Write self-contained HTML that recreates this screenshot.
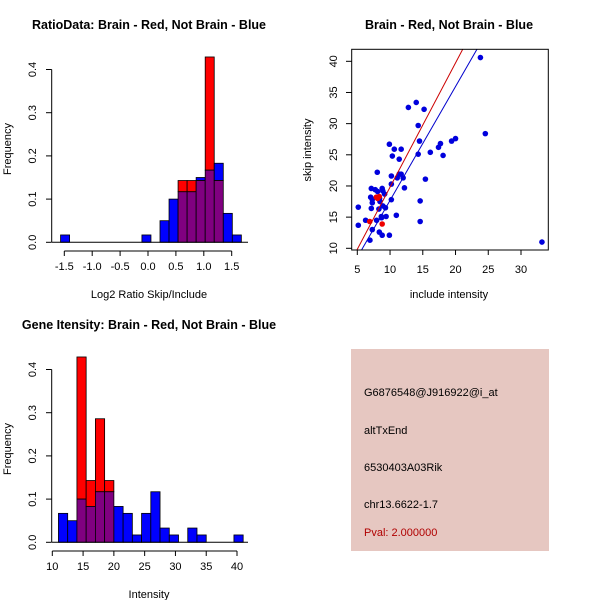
<!DOCTYPE html>
<html><head><meta charset="utf-8"><style>
html,body{margin:0;padding:0;background:#fff;}
svg{display:block;font-family:"Liberation Sans",sans-serif;}
</style></head><body>
<svg id="s" width="600" height="600" viewBox="0 0 600 600">
<rect x="0" y="0" width="600" height="600" fill="#fff"/>
<text x="149" y="29" font-size="12.5" font-weight="bold" text-anchor="middle">RatioData: Brain - Red, Not Brain - Blue</text>
<text x="449" y="29" font-size="12.5" font-weight="bold" text-anchor="middle">Brain - Red, Not Brain - Blue</text>
<text x="149" y="329" font-size="12.5" font-weight="bold" text-anchor="middle">Gene Itensity: Brain - Red, Not Brain - Blue</text>
<text x="149" y="298" font-size="11" text-anchor="middle">Log2 Ratio Skip/Include</text>
<text x="449" y="298" font-size="11" text-anchor="middle">include intensity</text>
<text x="149" y="598" font-size="11" text-anchor="middle">Intensity</text>
<text transform="translate(11,149) rotate(-90)" font-size="11" text-anchor="middle">Frequency</text>
<text transform="translate(311,150) rotate(-90)" font-size="11" text-anchor="middle">skip intensity</text>
<text transform="translate(11,449) rotate(-90)" font-size="11" text-anchor="middle">Frequency</text>
<g>
<rect x="351" y="349" width="198" height="202" fill="#e6c7c1"/>
<text x="364" y="396" font-size="11">G6876548@J916922@i_at</text>
<text x="364" y="434" font-size="11">altTxEnd</text>
<text x="364" y="471" font-size="11">6530403A03Rik</text>
<text x="364" y="508" font-size="11">chr13.6622-1.7</text>
<text x="364" y="536" font-size="11" fill="#b00000">Pval: 2.000000</text>
</g>
</svg>
<script>
// Ratio histogram data
const ratioBinStart = 0.215;
const ratioBinWidth = 0.162;
const ratioBins = [-11,-2,0,1,2,3,4,5,6,7,8];
const ratioBlue = [0.017,0.017,0.05,0.1,0.117,0.117,0.15,0.167,0.183,0.067,0.017];
const ratioRed  = [0,0,0,0,0.143,0.143,0.143,0.429,0.143,0,0];
const ratioXTicks = [-1.5,-1.0,-0.5,0.0,0.5,1.0,1.5];
const ratioXLabels = ["-1.5","-1.0","-0.5","0.0","0.5","1.0","1.5"];
const freqTicks = [0,0.1,0.2,0.3,0.4];
const freqLabels = ["0.0","0.1","0.2","0.3","0.4"];
// Intensity histogram data
const intBinStart = 11;
const intBinWidth = 1.5;
const intBlue = [0.067,0.05,0.1,0.083,0.117,0.117,0.083,0.067,0.017,0.067,0.117,0.033,0.017,0,0.033,0.017,0,0,0,0.017];
const intRed  = [0,0,0.429,0.143,0.286,0.143,0,0,0,0,0,0,0,0,0,0,0,0,0,0];
const intXTicks = [10,15,20,25,30,35,40];
// Scatter data
const blueX = [5.15,5.15,6.27,6.93,7.04,7.14,7.14,7.29,7.29,7.29,7.75,8.05,7.95,8.1,8.3,8.36,8.46,8.67,8.8,8.8,8.9,8.9,9.17,9.3,9.4,9.9,9.9,10.2,10.2,10.2,10.35,10.65,10.96,11.1,11.4,11.4,11.7,11.7,12.0,12.2,12.8,14.0,14.3,14.3,14.5,14.6,14.6,15.2,15.4,16.15,17.4,17.7,18.1,19.4,20.0,23.8,24.55,33.2,8.4,8.7];
const blueY = [16.6,13.7,14.5,11.3,18.2,19.6,16.4,13.0,17.8,17.3,19.4,22.2,14.5,19.1,16.3,12.6,17.5,15.1,19.6,12.1,16.8,19.2,18.7,16.5,15.1,12.1,26.7,17.8,20.3,21.6,24.8,25.9,15.3,21.3,24.3,21.9,25.9,21.9,21.3,19.7,32.6,33.4,29.7,25.1,27.2,17.6,14.3,32.3,21.1,25.4,26.2,26.8,24.9,27.2,27.6,40.6,28.4,11.0,18.0,14.9];
const redX = [6.9,7.9,8.36,8.8,8.1];
const redY = [14.3,18.2,18.3,13.9,18.0];
const lineSlopes = [1.993,1.827];
const lineIntercepts = [-0.12,-0.59];
const lineColors = ["#cc0000","#0000cc"];
const scX = [5,10,15,20,25,30];
const scY = [10,15,20,25,30,35,40];

const svg = document.getElementById('s');
const NS = 'http://www.w3.org/2000/svg';
function mk(tag, attrs){const e=document.createElementNS(NS,tag);for(const k in attrs)e.setAttribute(k,attrs[k]);svg.appendChild(e);return e;}

function hist(xs, ys, binStartFn, bw, blue, red, xTicks, xLabels, axisY, baseLine, prefix){
  for(let i=0;i<blue.length;i++){
    const x0=xs(binStartFn(i)), x1=xs(binStartFn(i)+bw);
    const b=blue[i], r=red[i], lo=Math.min(b,r), hi=Math.max(b,r);
    if(hi>lo){
      const e=mk('rect',{x:x0,y:ys(hi),width:x1-x0,height:ys(lo)-ys(hi),fill:b>r?'#0000ff':'#ff0000',stroke:'#000','stroke-width':0.8});
      
      
    }
    if(lo>0){
      const e=mk('rect',{x:x0,y:ys(lo),width:x1-x0,height:ys(0)-ys(lo),fill:'#800080',stroke:'#000','stroke-width':0.8});
      
      
    }
  }
  const bl=mk('line',{x1:baseLine[0],x2:baseLine[1],y1:ys(0),y2:ys(0),stroke:'#000'});
  
  
  const ya=mk('line',{x1:51.7,x2:51.7,y1:ys(0),y2:ys(0.4),stroke:'#000'});
  
  
  freqTicks.forEach((t,i)=>{
    mk('line',{x1:51.7,x2:46,y1:ys(t),y2:ys(t),stroke:'#000'});
    const tx=mk('text',{transform:`translate(36,${ys(t)}) rotate(-90)`,'font-size':11,'text-anchor':'middle'});
    tx.textContent=freqLabels[i];
    
    
  });
  const xa=mk('line',{x1:xs(xTicks[0]),x2:xs(xTicks[xTicks.length-1]),y1:axisY,y2:axisY,stroke:'#000'});
  
  
  xTicks.forEach((t,i)=>{
    mk('line',{x1:xs(t),x2:xs(t),y1:axisY,y2:axisY+5,stroke:'#000'});
    const tx=mk('text',{x:xs(t),y:axisY+19,'font-size':11,'text-anchor':'middle'});
    tx.textContent=xLabels[i];
    
    
  });
}

const rx=v=>64.3+(v+1.5)*55.8, ry=v=>242.3-v*432;
hist(rx,ry,i=>ratioBinStart+ratioBins[i]*ratioBinWidth,ratioBinWidth,ratioBlue,ratioRed,ratioXTicks,ratioXLabels,251,[52,248],'ratio');
const ix=v=>52.3+(v-10)*6.157, iy=v=>542.3-v*432;
hist(ix,iy,i=>intBinStart+i*intBinWidth,intBinWidth,intBlue,intRed,intXTicks,intXTicks.map(String),551,[52,248],'intensity');

const sx=v=>357.3+(v-5)*6.548, sy=v=>248.3-(v-10)*6.233;
const clip=mk('clipPath',{id:'pc'});
const cr=document.createElementNS(NS,'rect');cr.setAttribute('x',351.7);cr.setAttribute('y',49.3);cr.setAttribute('width',196.6);cr.setAttribute('height',200.7);clip.appendChild(cr);
const g=mk('g',{'clip-path':'url(#pc)'});


function dot(x,y,c,n){const e=document.createElementNS(NS,'circle');e.setAttribute('cx',sx(x));e.setAttribute('cy',sy(y));e.setAttribute('r',2.8);e.setAttribute('fill',c);
  
  
  g.appendChild(e);}
blueX.forEach((x,i)=>dot(x,blueY[i],'#0000dd','blue-point'));
redX.forEach((x,i)=>dot(x,redY[i],'#ee0000','red-point'));
lineSlopes.forEach((m,i)=>{
  const e=document.createElementNS(NS,'line');
  e.setAttribute('x1',sx(0));e.setAttribute('y1',sy(lineIntercepts[i]));
  e.setAttribute('x2',sx(40));e.setAttribute('y2',sy(lineIntercepts[i]+m*40));
  e.setAttribute('stroke',lineColors[i]);e.setAttribute('stroke-width',1);
  
  
  g.appendChild(e);
});
const box=mk('rect',{x:351.7,y:49.3,width:196.6,height:200.7,fill:'none',stroke:'#000'});


scX.forEach(t=>{
  mk('line',{x1:sx(t),x2:sx(t),y1:250,y2:255,stroke:'#000'});
  const tx=mk('text',{x:sx(t),y:273,'font-size':11,'text-anchor':'middle'});tx.textContent=t;
  
  
});
scY.forEach(t=>{
  mk('line',{x1:351.7,x2:346,y1:sy(t),y2:sy(t),stroke:'#000'});
  const tx=mk('text',{transform:`translate(337,${sy(t)}) rotate(-90)`,'font-size':11,'text-anchor':'middle'});tx.textContent=t;
  
  
});
</script>
</body></html>
